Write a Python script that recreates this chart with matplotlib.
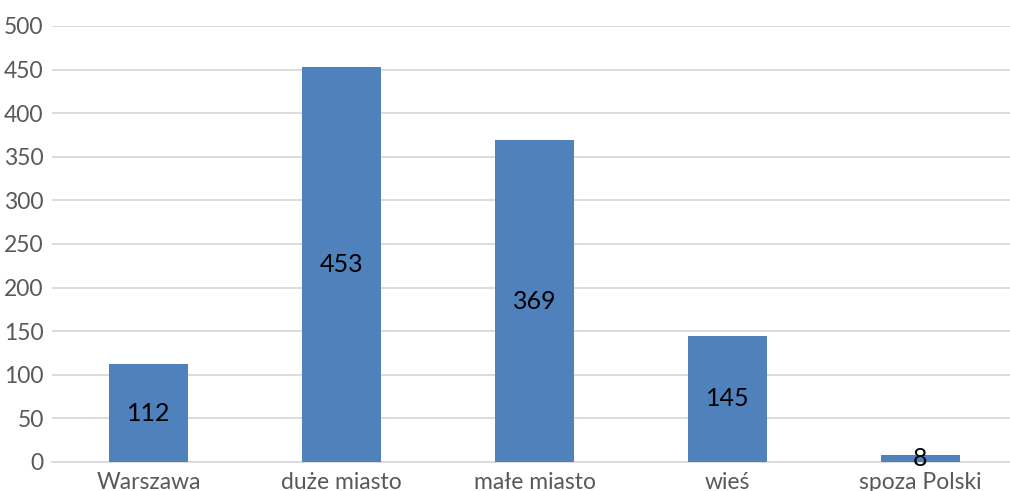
import matplotlib.pyplot as plt

categories = ["Warszawa", "duże miasto", "małe miasto", "wieś", "spoza Polski"]
values = [112, 453, 369, 145, 8]

plt.rcParams['font.family'] = ['Lato', 'DejaVu Sans']

fig = plt.figure(figsize=(10.1, 4.91), dpi=100)
ax = fig.add_axes([52 / 1010, 29 / 491, 965 / 1010, 436 / 491])

x = range(len(categories))
bars = ax.bar(x, values, width=0.405, color="#4F81BD", zorder=3)

for b, v in zip(bars, values):
    ax.text(b.get_x() + b.get_width() / 2, v / 2, str(v),
            ha="center", va="center", fontsize=18, color="black", zorder=4)

ax.set_xlim(-0.5, len(categories) - 0.5)
ax.set_ylim(0, 500)
ax.set_yticks(range(0, 501, 50))
ax.set_xticks(list(x))
ax.set_xticklabels(categories)
ax.grid(axis="y", color="#D9D9D9", linewidth=1.3, zorder=0)
ax.tick_params(axis="both", length=0, labelsize=16.5, labelcolor="#595959")
ax.tick_params(axis="y", pad=6)
ax.tick_params(axis="x", pad=7)
for s in ["top", "right", "left"]:
    ax.spines[s].set_visible(False)
ax.spines["bottom"].set_color("#D9D9D9")
ax.spines["bottom"].set_linewidth(1.3)

fig.savefig("out.png", dpi=100)
